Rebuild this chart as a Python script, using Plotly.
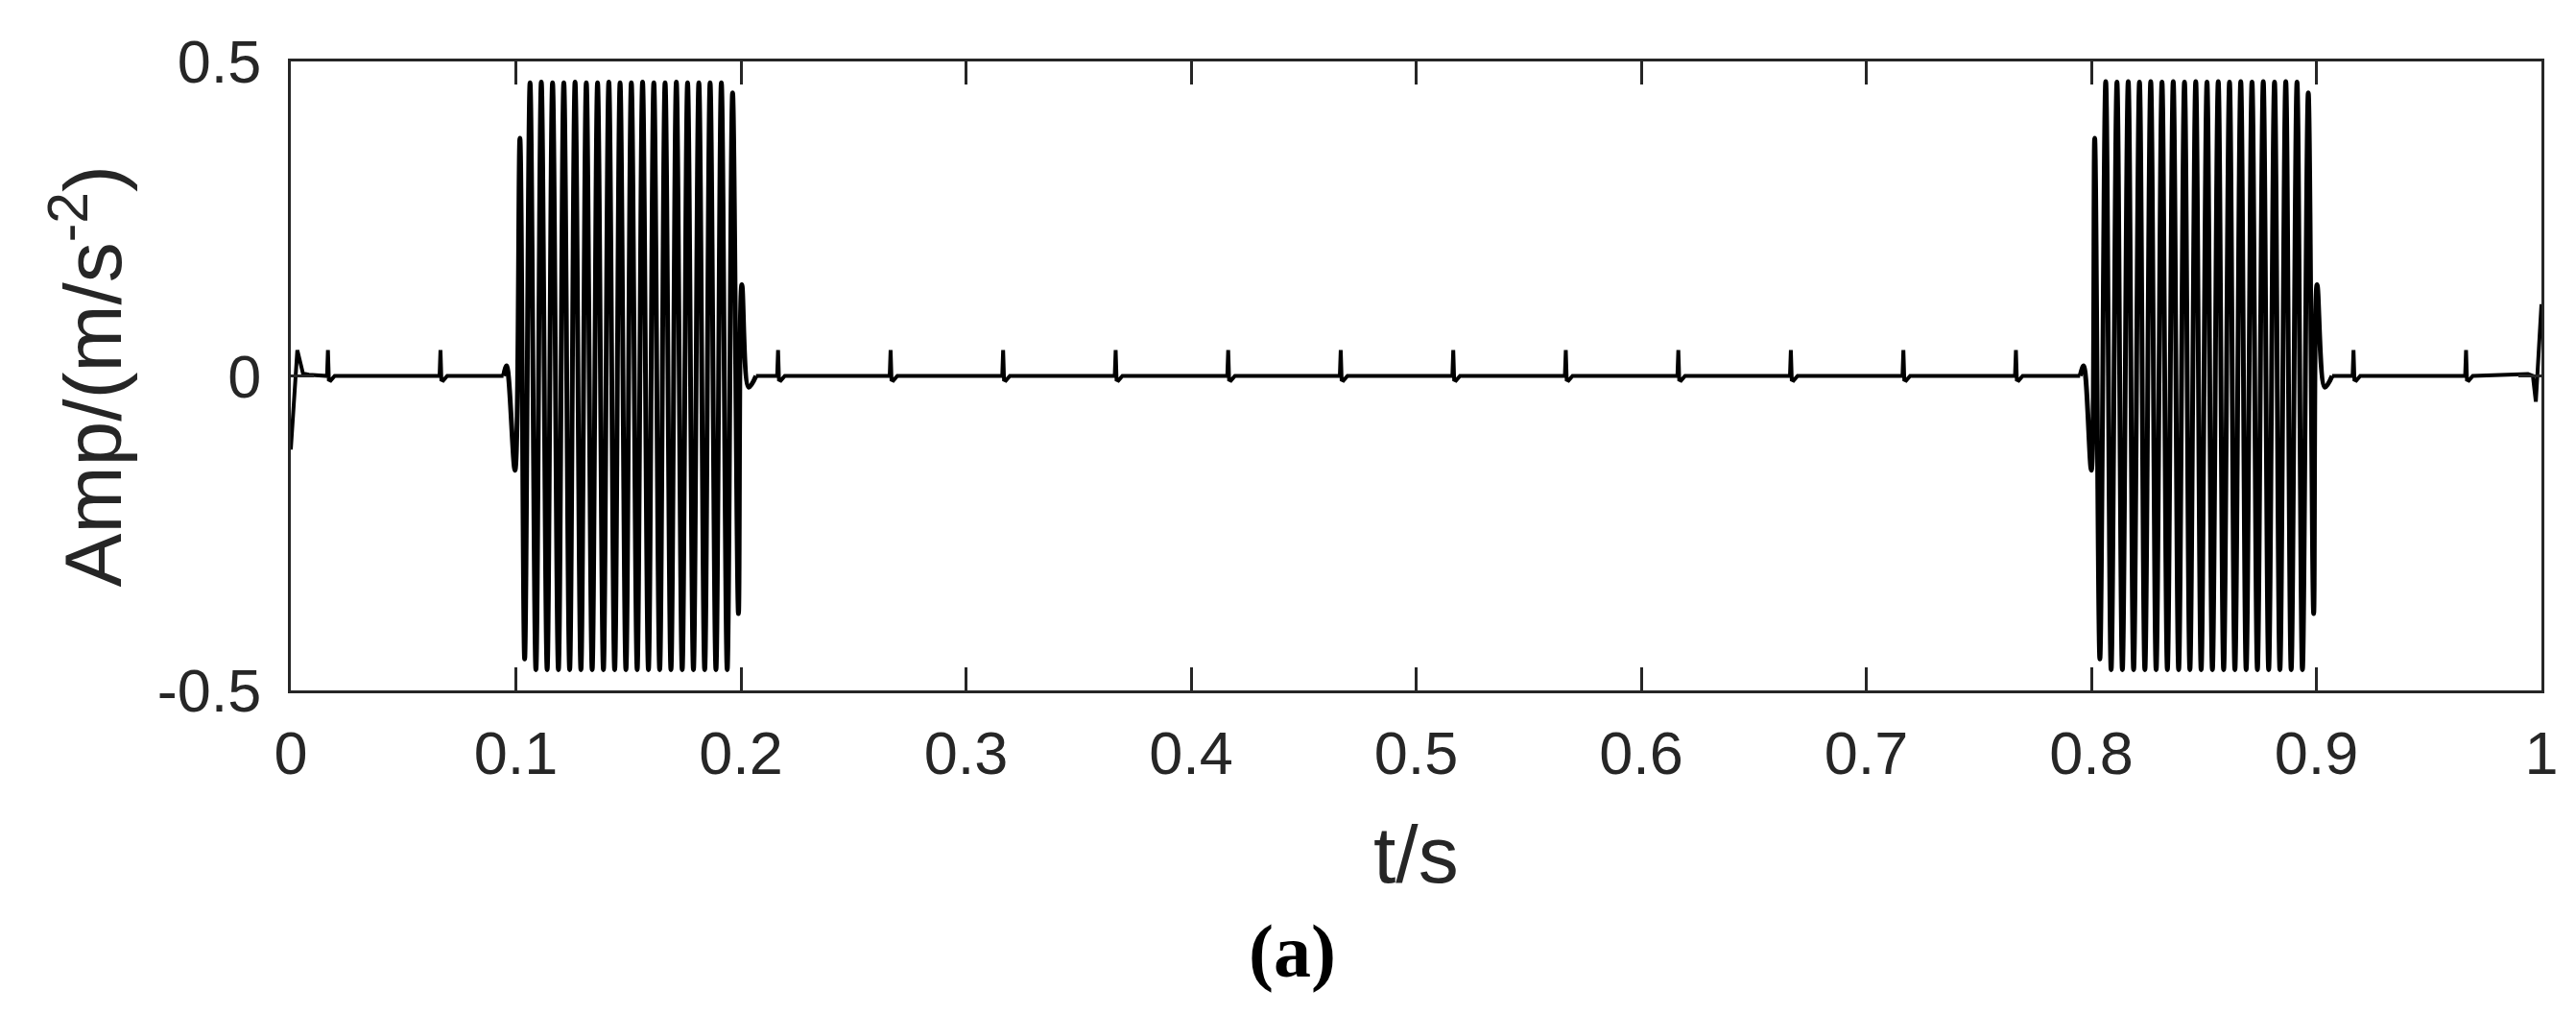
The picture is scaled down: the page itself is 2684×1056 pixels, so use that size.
import plotly.graph_objects as go

# ---------------- data ----------------
start_t = [0.0000, 0.0029, 0.0054, 0.0080]
start_amp = [-0.117, 0.041, 0.004, 0.002]

impulse_t = [0.0165, 0.0665, 0.2165, 0.2665, 0.3165, 0.3665, 0.4165, 0.4665,
             0.5165, 0.5665, 0.6165, 0.6665, 0.7165, 0.7665, 0.9165, 0.9665]
impulse_amp = [0.041, 0.041, 0.041, 0.041, 0.041, 0.041, 0.041, 0.041,
               0.041, 0.041, 0.041, 0.041, 0.041, 0.041, 0.041, 0.041]
impulse_shape_dt = [-0.0004, 0.0000, 0.0004, 0.0012, 0.0030]
impulse_shape_k = [0.00, 1.00, -0.15, -0.18, 0.00]

burst1_t = [0.0945, 0.0959, 0.0996, 0.1018, 0.1039,
            0.1063, 0.1089, 0.1113, 0.1139, 0.1163, 0.1189, 0.1213, 0.1239, 0.1263, 0.1289,
            0.1313, 0.1339, 0.1363, 0.1389, 0.1413, 0.1439, 0.1463, 0.1489, 0.1513, 0.1539,
            0.1563, 0.1589, 0.1613, 0.1639, 0.1663, 0.1689, 0.1713, 0.1739, 0.1763, 0.1789,
            0.1813, 0.1839, 0.1863, 0.1889, 0.1913, 0.1939, 0.1963, 0.1989,
            0.2004, 0.2035, 0.2067]
burst1_amp = [0.000, 0.016, -0.150, 0.378, -0.450,
              0.466, -0.467, 0.467, -0.467, 0.466, -0.467, 0.466, -0.467, 0.467, -0.467,
              0.466, -0.467, 0.466, -0.467, 0.467, -0.467, 0.466, -0.467, 0.466, -0.467,
              0.467, -0.467, 0.466, -0.467, 0.466, -0.467, 0.467, -0.467, 0.466, -0.467,
              0.466, -0.467, 0.466, -0.467, 0.466, -0.467, 0.450, -0.378,
              0.145, -0.018, 0.000]

burst2_t = [0.7950, 0.7966, 0.8000, 0.8015, 0.8038,
            0.8064, 0.8088, 0.8114, 0.8138, 0.8164, 0.8188, 0.8214, 0.8238, 0.8264, 0.8288,
            0.8314, 0.8338, 0.8364, 0.8388, 0.8414, 0.8438, 0.8464, 0.8488, 0.8514, 0.8538,
            0.8564, 0.8588, 0.8614, 0.8638, 0.8664, 0.8688, 0.8714, 0.8738, 0.8764, 0.8788,
            0.8814, 0.8838, 0.8864, 0.8888, 0.8914, 0.8938, 0.8964, 0.8988,
            0.9003, 0.9038, 0.9070]
burst2_amp = [0.000, 0.016, -0.150, 0.378, -0.450,
              0.468, -0.467, 0.467, -0.467, 0.468, -0.467, 0.467, -0.467, 0.468, -0.467,
              0.467, -0.467, 0.468, -0.467, 0.467, -0.467, 0.468, -0.467, 0.467, -0.467,
              0.468, -0.467, 0.467, -0.467, 0.468, -0.467, 0.467, -0.467, 0.468, -0.467,
              0.467, -0.467, 0.468, -0.467, 0.467, -0.467, 0.450, -0.378,
              0.145, -0.018, 0.000]

end_t = [0.9940, 0.9962, 0.9975, 1.0000]
end_amp = [0.003, 0.000, -0.041, 0.114]

x_ticks = [0, 0.1, 0.2, 0.3, 0.4, 0.5, 0.6, 0.7, 0.8, 0.9, 1]
x_tick_labels = ["0", "0.1", "0.2", "0.3", "0.4", "0.5", "0.6", "0.7", "0.8", "0.9", "1"]
y_ticks = [-0.5, 0, 0.5]
y_tick_labels = ["-0.5", "0", "0.5"]

# ---------------- assemble the baseline polyline (outside the bursts) ----------------
pts = list(zip(start_t, start_amp))
for ti, hi in zip(impulse_t, impulse_amp):
    for dt, k in zip(impulse_shape_dt, impulse_shape_k):
        pts.append((ti + dt, hi * k))
pts += list(zip(end_t, end_amp))
pts += [(burst1_t[0], burst1_amp[0]), (burst1_t[-1], burst1_amp[-1]),
        (burst2_t[0], burst2_amp[0]), (burst2_t[-1], burst2_amp[-1])]
pts.sort(key=lambda p: p[0])
base_t, base_amp = [], []
for (ta, aa) in pts:
    base_t.append(ta)
    base_amp.append(aa)
    if ta in (burst1_t[0], burst2_t[0]):
        base_t.append(None)
        base_amp.append(None)

AX = "#262626"
FONT = "Arial, Liberation Sans, sans-serif"

fig = go.Figure()
fig.add_trace(go.Scatter(x=base_t, y=base_amp, mode="lines", connectgaps=False,
                         line=dict(color="black", width=4), hoverinfo="skip", showlegend=False))
for bt, ba in ((burst1_t, burst1_amp), (burst2_t, burst2_amp)):
    fig.add_trace(go.Scatter(x=bt, y=ba, mode="lines",
                             line=dict(color="black", width=5, shape="spline", smoothing=1.0),
                             hoverinfo="skip", showlegend=False))

axis_common = dict(showline=True, linecolor=AX, linewidth=3, mirror="ticks",
                   ticks="inside", ticklen=24, tickwidth=3, tickcolor=AX,
                   showgrid=False, zeroline=False,
                   tickfont=dict(family=FONT, size=63, color=AX))

fig.update_layout(
    width=2684, height=1056,
    margin=dict(l=295, r=44, t=56, b=345),
    paper_bgcolor="white", plot_bgcolor="white",
    xaxis=dict(range=[0, 1], tickmode="array", tickvals=x_ticks, ticktext=x_tick_labels,
               ticklabelstandoff=8, **axis_common),
    yaxis=dict(range=[-0.5, 0.5], tickmode="array", tickvals=y_ticks, ticktext=y_tick_labels,
               ticklabelstandoff=15, **axis_common),
    annotations=[
        dict(text="t/s", xref="paper", yref="paper", x=0.5, y=-0.2608,
             xanchor="center", yanchor="middle", showarrow=False,
             font=dict(family=FONT, size=84, color=AX)),
        dict(text="Amp/(m/s<sup>-2</sup>)", xref="paper", yref="paper", x=-0.0908, y=0.5,
             xanchor="center", yanchor="middle", textangle=-90, showarrow=False,
             font=dict(family=FONT, size=84, color=AX)),
        dict(text="<b>(a)</b>", xref="paper", yref="paper", x=0.4448, y=-0.4138,
             xanchor="center", yanchor="middle", showarrow=False,
             font=dict(family="Times New Roman, Liberation Serif, serif", size=78, color="black")),
    ],
)

fig.write_html("out.html")
